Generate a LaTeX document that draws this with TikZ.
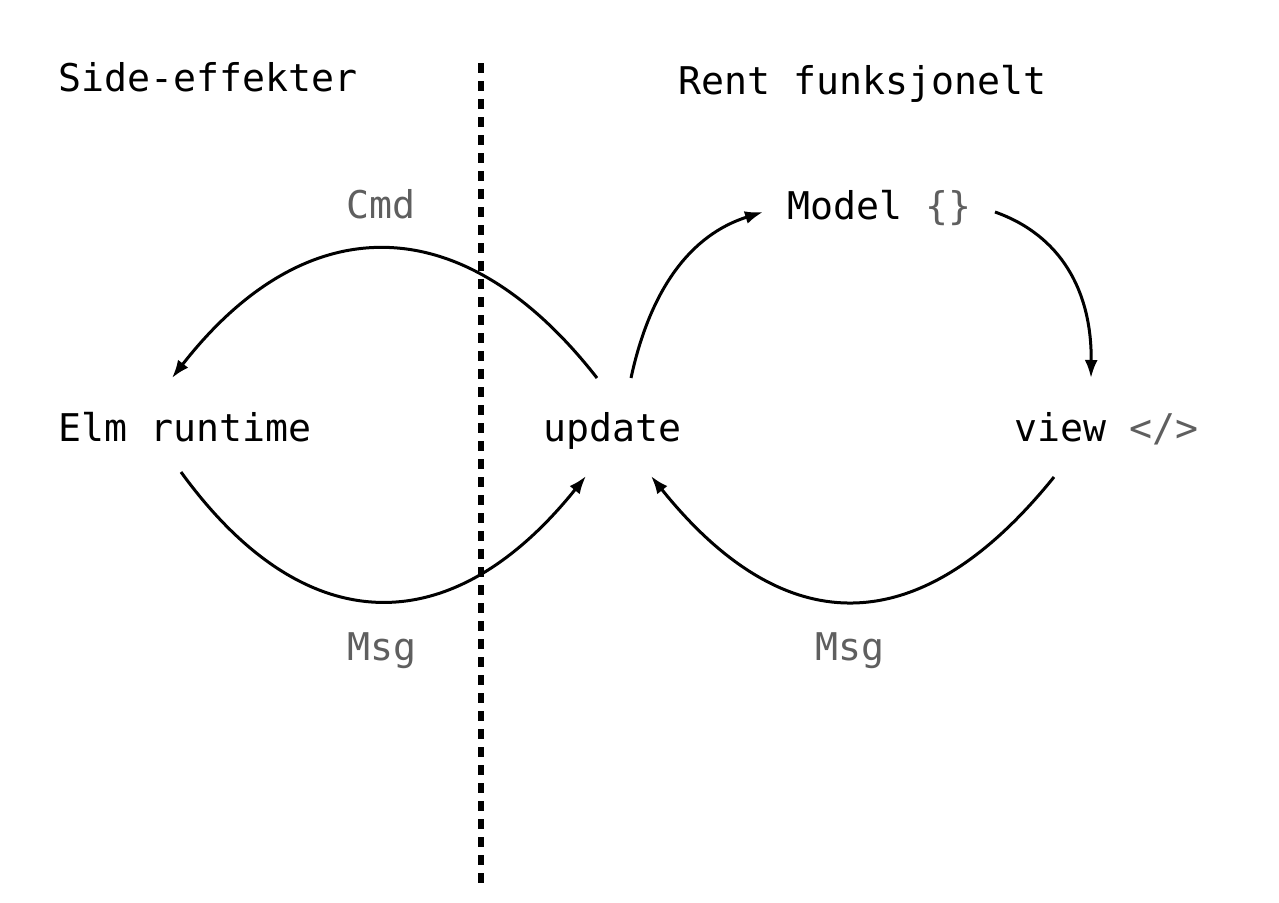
\documentclass[tikz,border=0pt]{standalone}
\usepackage{fontspec}
\setmonofont{DejaVu Sans Mono}
\usetikzlibrary{arrows.meta}
\definecolor{lbl}{RGB}{95,95,95}
\tikzset{
  txt/.style={anchor=base west,inner sep=0pt,font=\fontsize{38.2}{45}\selectfont\ttfamily},
  conn/.style={line width=3pt,-{Latex[length=18pt,width=13pt]}},
  divider/.style={line width=6pt,dash pattern=on 10pt off 8pt}
}
\begin{document}
\begin{tikzpicture}[x=1pt,y=-1pt]
\useasboundingbox (0,0) rectangle (1279,902);
% titles
\node[txt] (side) at (58,91) {Side-effekter};
\node[txt] (rent) at (678,94) {Rent funksjonelt};
% main nodes
\node[txt] (elm) at (58,441) {Elm runtime};
\node[txt] (upd) at (543,441) {update};
\node[txt] (view) at (1014,441) {view \textcolor{lbl}{</>}};
\node[txt] (model) at (787,219) {Model \textcolor{lbl}{\{\}}};
% labels
\node[txt,text=lbl] (cmd) at (346,218) {Cmd};
\node[txt,text=lbl] (msgl) at (347,660) {Msg};
\node[txt,text=lbl] (msgr) at (815,660) {Msg};
% divider
\coordinate (dtop) at (481,63);
\coordinate (dbot) at (481,885);
\draw[divider] (dtop) -- (dbot);
% connector end points
\coordinate (cmdS) at (597,378);
\coordinate (cmdE) at (172,378);
\coordinate (mlS) at (181,472);
\coordinate (mlE) at (586,476);
\coordinate (mrS) at (1054,477);
\coordinate (mrE) at (651,476);
\coordinate (umS) at (631,378);
\coordinate (umE) at (763,212);
\coordinate (mvS) at (995,212);
\coordinate (mvE) at (1091,378);
% connectors
\draw[conn] (cmdS) .. controls (463,206) and (306,206) .. (cmdE);
\draw[conn] (mlS) .. controls (305,643) and (452,643) .. (mlE);
\draw[conn] (mrS) .. controls (920,643) and (785,643) .. (mrE);
\draw[conn] (umS) .. controls (650,290) and (690,235) .. (umE);
\draw[conn] (mvS) .. controls (1060,235) and (1092,290) .. (mvE);
\end{tikzpicture}
\end{document}
